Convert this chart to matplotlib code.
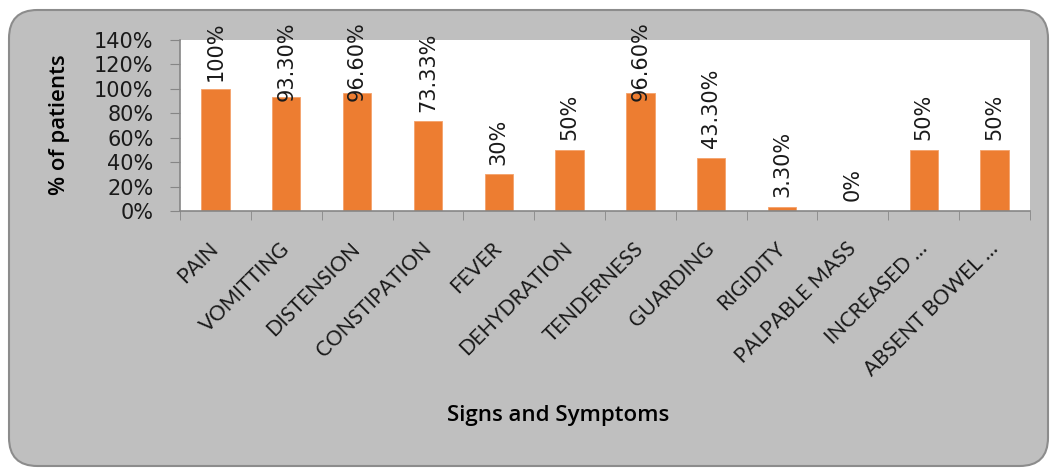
import matplotlib
matplotlib.use("Agg")
import matplotlib.pyplot as plt
from matplotlib.patches import FancyBboxPatch
from matplotlib.ticker import MultipleLocator, PercentFormatter, FixedLocator, NullFormatter

symptoms = ["PAIN", "VOMITTING", "DISTENSION", "CONSTIPATION", "FEVER",
            "DEHYDRATION", "TENDERNESS", "GUARDING", "RIGIDITY",
            "PALPABLE MASS", "INCREASED \u2026", "ABSENT BOWEL \u2026"]
percent = [100, 93.3, 96.6, 73.33, 30, 50, 96.6, 43.3, 3.3, 0, 50, 50]
labels = ["100%", "93.30%", "96.60%", "73.33%", "30%", "50%", "96.60%",
          "43.30%", "3.30%", "0%", "50%", "50%"]

W, H = 1051, 469
fig = plt.figure(figsize=(W / 100, H / 100), dpi=100)
fig.patch.set_facecolor("white")

# grey chart area with rounded corners
box = FancyBboxPatch((9 / W, 3 / H), 1039 / W, 456 / H,
                     boxstyle="round,pad=0,rounding_size=0.027",
                     transform=fig.transFigure, facecolor="#BFBFBF",
                     edgecolor="#8C8C8C", linewidth=1.5, zorder=-10,
                     mutation_aspect=W / H)
fig.patches.append(box)

ax = fig.add_axes([180 / W, 1 - 211 / H, 850 / W, 171 / H])
ax.set_facecolor("white")

x = list(range(len(symptoms)))
ax.bar(x, percent, width=0.4, color="#ED7D31", edgecolor="#F4A26B",
       linewidth=0.6, zorder=2)

ax.set_xlim(-0.5, len(symptoms) - 0.5)
ax.set_ylim(0, 140)
ax.yaxis.set_major_locator(MultipleLocator(20))
ax.yaxis.set_major_formatter(PercentFormatter(decimals=0))

# ticks between categories, labels at the centres
ax.xaxis.set_major_locator(FixedLocator(x))
ax.xaxis.set_minor_locator(FixedLocator([i - 0.5 for i in range(len(symptoms) + 1)]))
ax.xaxis.set_minor_formatter(NullFormatter())
ax.tick_params(axis="x", which="major", length=0, pad=25)
ax.tick_params(axis="x", which="minor", length=6.5, color="#868686", direction="out")
ax.tick_params(axis="y", length=7, color="#868686", direction="out", pad=12,
               labelsize=15, labelcolor="#1a1a1a")
ax.set_xticklabels(symptoms, rotation=45, ha="right", va="center",
                   rotation_mode="anchor", fontsize=15, family="Lato",
                   color="#1a1a1a")

for side in ["top", "right"]:
    ax.spines[side].set_visible(False)
for side in ["left", "bottom"]:
    ax.spines[side].set_color("#868686")
    ax.spines[side].set_linewidth(1.2)

fig.text(60 / W, 1 - 125 / H, "% of patients", fontsize=16, rotation=90,
         family="Open Sans", fontweight="semibold", ha="center", va="center")
fig.text(558 / W, 1 - 415 / H, "Signs and Symptoms", fontsize=16,
         family="Open Sans", fontweight="semibold", ha="center", va="center")

texts = []
for xi, v, lab in zip(x, percent, labels):
    t = ax.annotate(lab, (xi, v), xytext=(0, 7), textcoords="offset points",
                    rotation=90, ha="center", va="bottom", fontsize=15,
                    color="#1a1a1a", annotation_clip=False)
    texts.append(t)

# keep data labels inside the chart area like the original
fig.canvas.draw()
r = fig.canvas.get_renderer()
top_limit = H - 21
for t in texts:
    bb = t.get_window_extent(r)
    if bb.y1 > top_limit:
        dy = (bb.y1 - top_limit) * 72 / fig.dpi
        t.xyann = (0, 7 - dy)

fig.savefig("out.png", dpi=100)
